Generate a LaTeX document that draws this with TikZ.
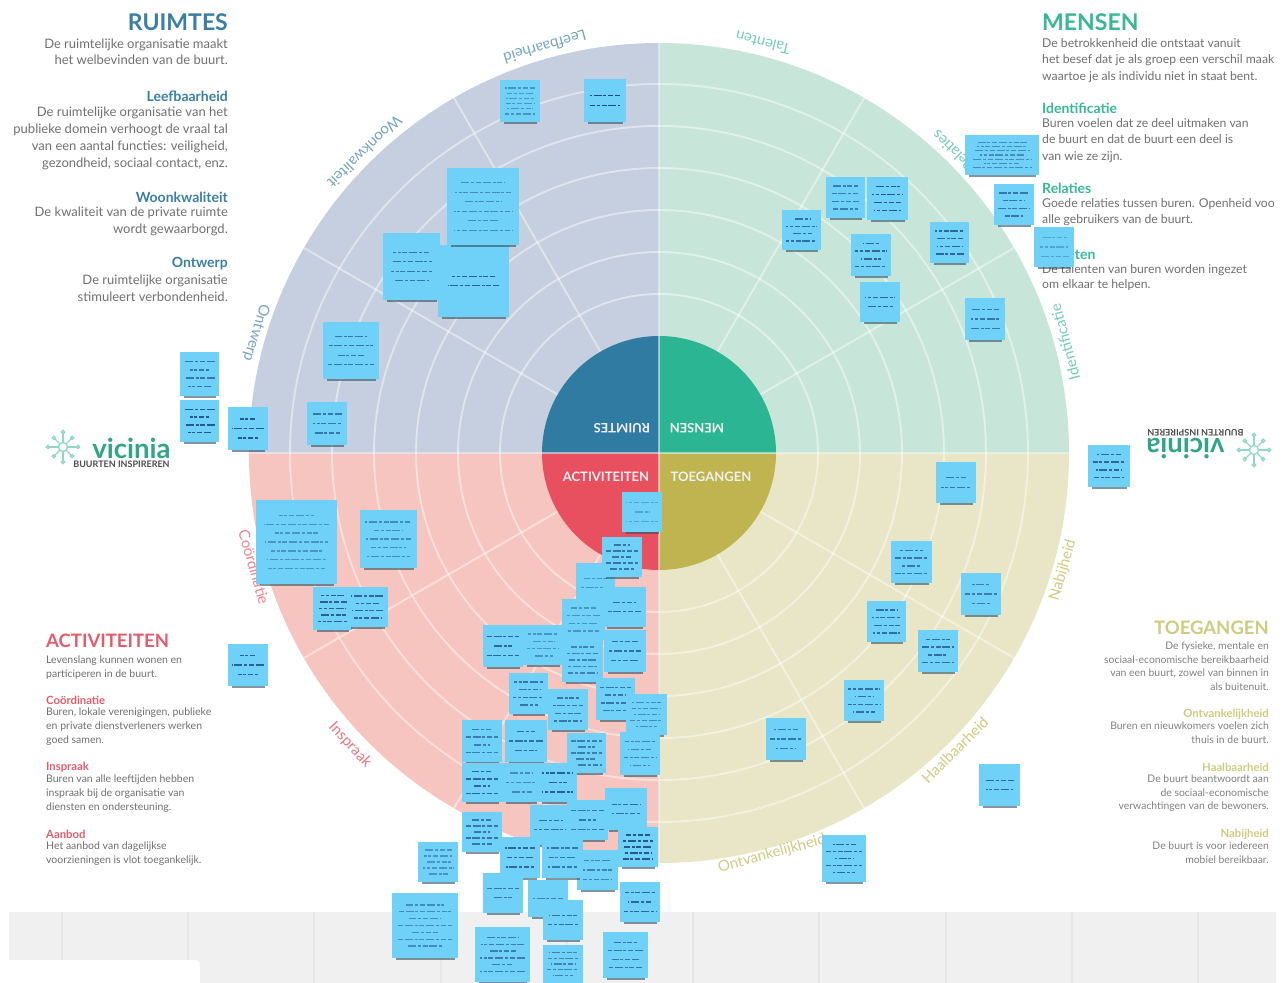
\documentclass[tikz,border=0pt]{standalone}
\usepackage{fontspec}
\usetikzlibrary{calc}
\setmainfont{Lato}
\definecolor{qR}{HTML}{C5CFDF}
\definecolor{qM}{HTML}{C8E5DA}
\definecolor{qA}{HTML}{F6C5BF}
\definecolor{qT}{HTML}{E8E6C6}
\definecolor{cR}{HTML}{2F7BA1}
\definecolor{cM}{HTML}{2BB593}
\definecolor{cA}{HTML}{E8505F}
\definecolor{cT}{HTML}{BFB450}
\definecolor{tR}{HTML}{3A7FA3}
\definecolor{tM}{HTML}{39B796}
\definecolor{tA}{HTML}{E45C6C}
\definecolor{tT}{HTML}{CFCB80}
\definecolor{notec}{HTML}{6FD0F8}
\definecolor{inkc}{HTML}{123C6E}
\definecolor{shadec}{HTML}{2F4F60}
\definecolor{bandc}{HTML}{F0F0F0}
\definecolor{bandl}{HTML}{E7E7E7}
\definecolor{bodyc}{HTML}{707070}
\newcommand\fs[2]{\fontsize{#1}{#2}\selectfont}
\newcounter{nc}
% \stick{x1}{x2}{y1}{y2}{lines}{ink opacity}
\newcommand\stick[6]{%
  \stepcounter{nc}%
  \pgfmathsetmacro\ncx{(#1+#2)/2}%
  \pgfmathsetmacro\ncy{(#3+#4)/2}%
  \pgfmathsetmacro\nw{#2-#1}%
  \pgfmathsetmacro\nh{#4-#3}%
  \pgfmathsetmacro\nsp{min(0.74*\nh/#5,9.5)}%
  \fill[noteshade] ({#1+4},{#4-2}) rectangle ({#2-3},{#4+2.2});
  \node[note,minimum width=\nw pt,minimum height=\nh pt] (n\thenc) at (\ncx,\ncy) {};
  \foreach \i in {1,...,#5}{%
    \pgfmathsetmacro\nl{0.4+0.42*abs(sin(\i*97+#1*13))}%
    \pgfmathsetmacro\ny{\ncy+(\i-(#5+1)/2)*\nsp}%
    \pgfmathsetmacro\nph{mod(\i*7+#1,14)}%
    \draw[noteink,opacity=#6,dash phase=\nph pt] ({\ncx-\nl*\nw/2},\ny) -- ({\ncx+\nl*\nw/2},\ny);
  }%
}
\newcommand\logo[3]{%
  \begin{scope}[shift={(#1,#2)},rotate=#3,transform shape]
    \foreach \a/\r in {0/15,45/13,90/15,135/13,180/15,225/13,270/15,315/13}{
      \draw[logoline] (0,0) -- (\a:\r);
      \draw[logoline,fill=white] (\a:\r) circle[radius=1.6];
    }
    \fill[white] (0,0) circle[radius=4.5];
    \draw[logoline] (0,0) circle[radius=4.5];
    \node[text=tM!90!black,font=\fs{27.5}{29}\bfseries,inner sep=0] at (68.5,1) {vicinia};
    \node[text=black!70,font=\fs{9}{10}\bfseries,inner sep=0] at (58.5,17) {BUURTEN INSPIREREN};
  \end{scope}%
}
\tikzset{
  x=1pt,y=-1pt,
  note/.style={fill=notec,draw=none,inner sep=0,rectangle},
  noteshade/.style={fill=shadec,opacity=.6},
  noteink/.style={draw=inkc,line width=1.35pt,dash pattern=on 5pt off 1.8pt on 8pt off 1.8pt on 3pt off 1.8pt},
  grid/.style={draw=white,opacity=.45,line width=1.9pt},
  logoline/.style={draw=tM!55,line width=1.3pt},
  title/.style={font=\fs{23}{26}\bfseries,inner sep=0},
  head/.style={font=\fs{14}{16}\bfseries,inner sep=0},
  smallhead/.style={font=\fs{11.3}{13}\bfseries,inner sep=0},
  bodyR/.style={anchor=north east,align=right,text=bodyc,inner sep=0},
  bodyL/.style={anchor=north west,align=left,text=bodyc,inner sep=0},
  ring/.style={font=\fs{15}{16},inner sep=0},
  hub/.style={font=\fs{13}{14}\bfseries,text=white!88!gray,inner sep=0},
}
\begin{document}
\begin{tikzpicture}
\useasboundingbox (0,0) rectangle (1286,983);
\fill[white] (0,0) rectangle (1286,983);
\clip (0,0) rectangle (1276,983);
% bottom band
\fill[bandc] (9,912) rectangle (1276,983);
\foreach \x in {62,188,314,441,567,693,819,946,1072,1198}{
  \draw[bandl,line width=1.5pt] (\x,912) -- (\x,983);
}
\fill[white,rounded corners=4pt] (0,960) rectangle (200,1000);
% quadrants
\coordinate (c) at (659,453);
\fill[qT] (c) -- ++(410,0) arc[start angle=0,end angle=90,radius=410] -- cycle;
\fill[qA] (c) -- ++(0,410) arc[start angle=90,end angle=180,radius=410] -- cycle;
\fill[qR] (c) -- ++(-410,0) arc[start angle=180,end angle=270,radius=410] -- cycle;
\fill[qM] (c) -- ++(0,-410) arc[start angle=270,end angle=360,radius=410] -- cycle;
\foreach \r in {159,201,243,285,327,369}{
  \draw[grid] (c) circle[radius=\r];
}
\foreach \a in {30,60,120,150,210,240,300,330}{
  \draw[grid] ($(c)+(\a:117)$) -- ($(c)+(\a:410)$);
}
\draw[white,opacity=.4,line width=1.4pt] (659,43) -- (659,863);
\draw[white,opacity=.4,line width=1.4pt] (249,453) -- (1069,453);
% hub
\fill[cT] (c) -- ++(117,0) arc[start angle=0,end angle=90,radius=117] -- cycle;
\fill[cA] (c) -- ++(0,117) arc[start angle=90,end angle=180,radius=117] -- cycle;
\fill[cR] (c) -- ++(-117,0) arc[start angle=180,end angle=270,radius=117] -- cycle;
\fill[cM] (c) -- ++(0,-117) arc[start angle=270,end angle=360,radius=117] -- cycle;
\draw[white,opacity=.5,line width=1.3pt] (659,336) -- (659,570);
\draw[white,opacity=.5,line width=1.3pt] (542,453) -- (776,453);
\node[hub,rotate=180] (hubR) at (622,428) {RUIMTES};
\node[hub,rotate=180] (hubM) at (697,428) {MENSEN};
\node[hub] (hubA) at (606,477) {ACTIVITEITEN};
\node[hub] (hubT) at (711,477) {TOEGANGEN};
% ring labels
\node[ring,text=tR!70,rotate=196] (l1) at (545,47) {Leefbaarheid};
\node[ring,text=tR!70,rotate=224] (l2) at (365,152) {Woonkwaliteit};
\node[ring,text=tR!70,rotate=253] (l3) at (256,333) {Ontwerp};
\node[ring,text=tM!70,rotate=166] (l4) at (763,43) {Talenten};
\node[ring,text=tM!70,rotate=136] (l5) at (953,151) {Relaties};
\node[ring,text=tM!70,rotate=105] (l6) at (1065,342) {Identificatie};
\node[ring,text=tA!75,rotate=-74] (l7) at (254,567) {Coördinatie};
\node[ring,text=tA!85,rotate=-47] (l8) at (350,745) {Inspraak};
\node[ring,text=tT,rotate=15] (l9) at (772,854) {Ontvankelijkheid};
\node[ring,text=tT,rotate=45] (l10) at (955,750) {Haalbaarheid};
\node[ring,text=tT,rotate=74] (l11) at (1063,570) {Nabijheid};
% RUIMTES text
\node[title,text=tR,anchor=east] (tr) at (228,22) {RUIMTES};
\node[bodyR,font=\fs{13}{16.5}] (r0) at (228,38.5) {De ruimtelijke organisatie maakt\\het welbevinden van de buurt.};
\node[head,text=tR,anchor=east] (r1h) at (228,96) {Leefbaarheid};
\node[bodyR,font=\fs{13}{17.2}] (r1) at (228,106.5) {De ruimtelijke organisatie van het\\publieke domein verhoogt de vraal tal\\van een aantal functies: veiligheid,\\gezondheid, sociaal contact, enz.};
\node[head,text=tR,anchor=east] (r2h) at (228,197) {Woonkwaliteit};
\node[bodyR,font=\fs{13}{17}] (r2) at (228,207) {De kwaliteit van de private ruimte\\wordt gewaarborgd.};
\node[head,text=tR,anchor=east] (r3h) at (228,264) {Ontwerp};
\node[bodyR,font=\fs{13}{17}] (r3) at (228,275) {De ruimtelijke organisatie\\stimuleert verbondenheid.};
% MENSEN text
\node[title,text=tM,anchor=west] (tm) at (1042,22) {MENSEN};
\node[bodyL,font=\fs{12.2}{16.5}] (m0) at (1042,38) {De betrokkenheid die ontstaat vanuit\\het besef dat je als groep een verschil maak\\waartoe je als individu niet in staat bent.};
\node[head,text=tM,anchor=west] (m1h) at (1042,108) {Identificatie};
\node[bodyL,font=\fs{12.2}{16.5}] (m1) at (1042,118) {Buren voelen dat ze deel uitmaken van\\de buurt en dat de buurt een deel is\\van wie ze zijn.};
\node[head,text=tM,anchor=west] (m2h) at (1042,188) {Relaties};
\node[bodyL,font=\fs{12.2}{16.5}] (m2) at (1042,198) {Goede relaties tussen buren. Openheid voo\\alle gebruikers van de buurt.};
\node[head,text=tM,anchor=west] (m3h) at (1042,254) {Talenten};
\node[bodyL,font=\fs{12.2}{15.5}] (m3) at (1042,264) {De talenten van buren worden ingezet\\om elkaar te helpen.};
% ACTIVITEITEN text
\node[font=\fs{18.5}{20}\bfseries,inner sep=0,text=tA,anchor=west] (ta) at (46,641) {ACTIVITEITEN};
\node[bodyL,font=\fs{10.5}{13.7}] (a0) at (46,655.5) {Levenslang kunnen wonen en\\participeren in de buurt.};
\node[smallhead,text=tA,anchor=west] (a1h) at (46,700) {Coördinatie};
\node[bodyL,font=\fs{10.5}{13.7}] (a1) at (46,708) {Buren, lokale verenigingen, publieke\\en private dienstverleners werken\\goed samen.};
\node[smallhead,text=tA,anchor=west] (a2h) at (46,767) {Inspraak};
\node[bodyL,font=\fs{10.5}{13.7}] (a2) at (46,775) {Buren van alle leeftijden hebben\\inspraak bij de organisatie van\\diensten en ondersteuning.};
\node[smallhead,text=tA,anchor=west] (a3h) at (46,834) {Aanbod};
\node[bodyL,font=\fs{10.5}{13.7}] (a3) at (46,842) {Het aanbod van dagelijkse\\voorzieningen is vlot toegankelijk.};
% TOEGANGEN text
\node[font=\fs{18.5}{20}\bfseries,inner sep=0,text=tT,anchor=east] (tt) at (1269,628) {TOEGANGEN};
\node[bodyR,text=black!50,font=\fs{10.4}{13.5}] (t0) at (1269,642) {De fysieke, mentale en\\sociaal-economische bereikbaarheid\\van een buurt, zowel van binnen in\\als buitenuit.};
\node[smallhead,text=tT,anchor=east] (t1h) at (1269,714) {Ontvankelijkheid};
\node[bodyR,text=black!50,font=\fs{10.4}{13.7}] (t1) at (1269,721.5) {Buren en nieuwkomers voelen zich\\thuis in de buurt.};
\node[smallhead,text=tT,anchor=east] (t2h) at (1269,767) {Haalbaarheid};
\node[bodyR,text=black!50,font=\fs{10.4}{13.7}] (t2) at (1269,774.5) {De buurt beantwoordt aan\\de sociaal-economische\\verwachtingen van de bewoners.};
\node[smallhead,text=tT,anchor=east] (t3h) at (1269,834) {Nabijheid};
\node[bodyR,text=black!50,font=\fs{10.4}{13.7}] (t3) at (1269,841.5) {De buurt is voor iedereen\\mobiel bereikbaar.};
% logos
\logo{63}{447}{0}
\logo{1254}{450}{180}
% sticky notes: top left
\stick{500}{540}{80}{122}{6}{.4}
\stick{584}{626}{79}{122}{2}{.9}
\stick{438}{509}{245}{317}{2}{.75}
\stick{447}{519}{168}{245}{6}{.45}
\stick{383}{440}{233}{300}{4}{.6}
\stick{323}{379}{322}{379}{4}{.6}
\stick{307}{347}{402}{445}{3}{.6}
\stick{228}{268}{407}{450}{3}{.8}
\stick{180}{219}{352}{396}{4}{.6}
\stick{180}{219}{400}{442}{4}{.8}
% top right
\stick{965}{1039}{135}{175}{7}{.45}
\stick{994}{1034}{184}{225}{4}{.6}
\stick{930}{969}{222}{263}{4}{.7}
\stick{826}{865}{177}{218}{4}{.55}
\stick{867}{908}{177}{220}{4}{.8}
\stick{782}{821}{210}{250}{4}{.65}
\stick{851}{891}{234}{276}{4}{.7}
\stick{860}{900}{282}{322}{2}{.7}
\stick{965}{1005}{298}{340}{3}{.6}
\stick{1034}{1074}{227}{267}{3}{.3}
\stick{1088}{1130}{445}{487}{4}{.7}
% bottom right
\stick{936}{976}{462}{503}{2}{.6}
\stick{891}{932}{541}{583}{4}{.6}
\stick{961}{1001}{573}{615}{3}{.55}
\stick{867}{906}{601}{642}{4}{.65}
\stick{918}{958}{630}{672}{4}{.65}
\stick{844}{884}{680}{721}{4}{.65}
\stick{766}{806}{718}{760}{3}{.6}
\stick{979}{1020}{764}{806}{2}{.7}
\stick{822}{866}{835}{882}{5}{.7}
% bottom left
\stick{256}{337}{500}{584}{7}{.4}
\stick{360}{417}{510}{568}{5}{.45}
\stick{313}{352}{587}{630}{5}{.75}
\stick{347}{388}{587}{627}{4}{.7}
\stick{228}{268}{644}{686}{3}{.75}
% central cluster
\stick{622}{662}{492}{532}{3}{.3}
\stick{576}{615}{563}{603}{2}{.4}
\stick{602}{642}{537}{577}{5}{.6}
\stick{562}{605}{599}{640}{4}{.4}
\stick{603}{646}{587}{627}{2}{.65}
\stick{604}{646}{630}{672}{3}{.65}
\stick{483}{523}{625}{667}{3}{.7}
\stick{523}{563}{625}{665}{4}{.4}
\stick{562}{603}{638}{682}{5}{.5}
\stick{509}{548}{673}{714}{4}{.6}
\stick{548}{588}{689}{730}{4}{.6}
\stick{596}{635}{678}{720}{4}{.6}
\stick{626}{667}{694}{735}{5}{.45}
\stick{462}{502}{720}{762}{4}{.55}
\stick{505}{547}{720}{762}{3}{.65}
\stick{567}{606}{733}{773}{5}{.55}
\stick{620}{660}{732}{775}{4}{.5}
\stick{462}{502}{763}{802}{4}{.7}
\stick{502}{540}{763}{802}{3}{.45}
\stick{538}{577}{763}{802}{3}{.75}
\stick{605}{647}{788}{830}{2}{.65}
\stick{530}{570}{805}{845}{2}{.65}
\stick{567}{608}{800}{840}{3}{.6}
\stick{462}{502}{812}{852}{5}{.6}
\stick{618}{658}{827}{867}{5}{.8}
\stick{577}{618}{850}{890}{3}{.5}
\stick{500}{540}{837}{878}{3}{.7}
\stick{542}{583}{837}{878}{3}{.6}
\stick{418}{458}{842}{882}{5}{.4}
\stick{483}{523}{873}{913}{2}{.6}
\stick{528}{568}{880}{917}{1}{.5}
\stick{620}{660}{882}{922}{3}{.7}
\stick{543}{583}{900}{940}{2}{.65}
\stick{392}{458}{893}{958}{7}{.45}
\stick{475}{530}{927}{982}{6}{.55}
\stick{543}{583}{945}{983}{5}{.5}
\stick{603}{648}{932}{978}{4}{.6}
\end{tikzpicture}
\end{document}
